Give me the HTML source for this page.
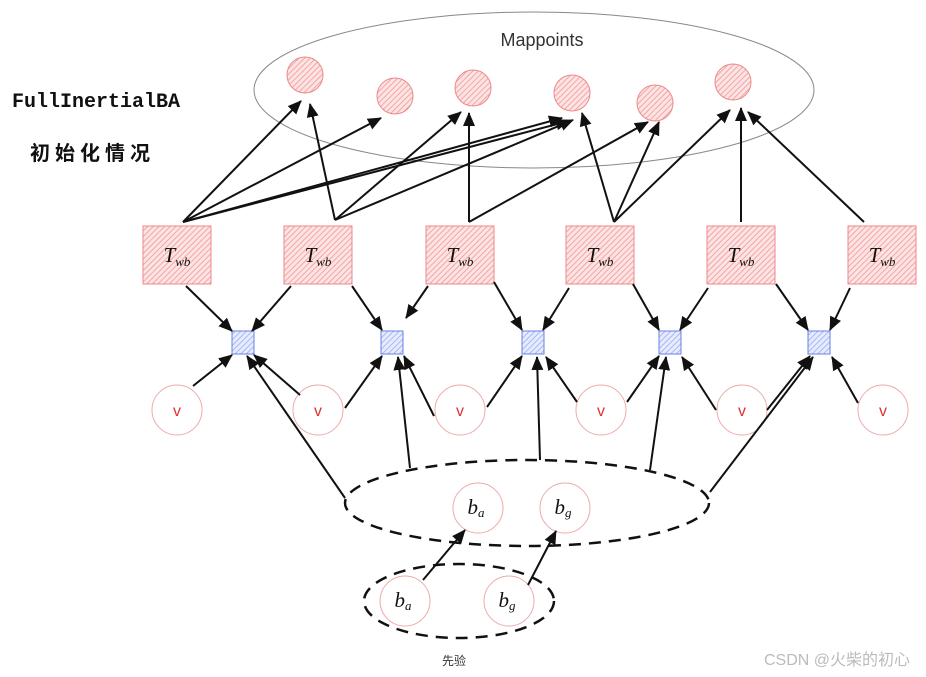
<!DOCTYPE html>
<html><head><meta charset="utf-8"><style>
html,body{margin:0;padding:0;background:#fff;}
svg{display:block;}
</style></head><body>
<svg width="926" height="677" viewBox="0 0 926 677" xmlns="http://www.w3.org/2000/svg">
<defs>
<pattern id="hr" width="4" height="4" patternUnits="userSpaceOnUse" patternTransform="rotate(45)">
<rect width="4" height="4" fill="#fde4e4"/><line x1="0" y1="0" x2="0" y2="4" stroke="#f2a5a5" stroke-width="2"/></pattern>
<pattern id="hb" width="4" height="4" patternUnits="userSpaceOnUse" patternTransform="rotate(45)">
<rect width="4" height="4" fill="#e6ebff"/><line x1="0" y1="0" x2="0" y2="4" stroke="#a9b8f2" stroke-width="2"/></pattern>
<marker id="a" markerWidth="14" markerHeight="14" refX="13" refY="6" orient="auto" markerUnits="userSpaceOnUse" viewBox="0 0 14 12">
<path d="M0,0 L14,6 L0,12 Z" fill="#111"/></marker>
</defs>
<ellipse cx="534" cy="90" rx="280" ry="78" fill="none" stroke="#888" stroke-width="1"/>
<text x="542" y="46" font-family="Liberation Sans, sans-serif" font-size="18" fill="#333" text-anchor="middle">Mappoints</text>
<text x="12" y="107" font-family="Liberation Mono, monospace" font-size="20" fill="#111" font-weight="bold">FullInertialBA</text>
<text x="30" y="160" font-family="Noto Sans CJK SC, sans-serif" font-size="20" font-weight="bold" fill="#111" letter-spacing="5">初始化情况</text>
<g fill="url(#hr)" stroke="#e88" stroke-width="1">
<circle cx="305" cy="75" r="18"/><circle cx="395" cy="96" r="18"/><circle cx="473" cy="88" r="18"/>
<circle cx="572" cy="93" r="18"/><circle cx="655" cy="103" r="18"/><circle cx="733" cy="82" r="18"/>
<rect x="143" y="226" width="68" height="58"/><rect x="284" y="226" width="68" height="58"/>
<rect x="426" y="226" width="68" height="58"/><rect x="566" y="226" width="68" height="58"/>
<rect x="707" y="226" width="68" height="58"/><rect x="848" y="226" width="68" height="58"/>
</g>
<g font-family="Liberation Serif, serif" font-style="italic" font-size="21" fill="#111" text-anchor="middle">
<text x="177" y="262">T<tspan font-size="13" dy="4">wb</tspan></text>
<text x="318" y="262">T<tspan font-size="13" dy="4">wb</tspan></text>
<text x="460" y="262">T<tspan font-size="13" dy="4">wb</tspan></text>
<text x="600" y="262">T<tspan font-size="13" dy="4">wb</tspan></text>
<text x="741" y="262">T<tspan font-size="13" dy="4">wb</tspan></text>
<text x="882" y="262">T<tspan font-size="13" dy="4">wb</tspan></text>
</g>
<g fill="url(#hb)" stroke="#6b80e0" stroke-width="1">
<rect x="232" y="331" width="22" height="23"/><rect x="381" y="331" width="22" height="23"/>
<rect x="522" y="331" width="22" height="23"/><rect x="659" y="331" width="22" height="23"/>
<rect x="808" y="331" width="22" height="23"/>
</g>
<g fill="#fff" stroke="#eaa" stroke-width="1">
<circle cx="177" cy="410" r="25"/><circle cx="318" cy="410" r="25"/><circle cx="460" cy="410" r="25"/>
<circle cx="601" cy="410" r="25"/><circle cx="742" cy="410" r="25"/><circle cx="883" cy="410" r="25"/>
<circle cx="478" cy="508" r="25"/><circle cx="565" cy="508" r="25"/>
<circle cx="405" cy="601" r="25"/><circle cx="509" cy="601" r="25"/>
</g>
<g font-family="Liberation Sans, sans-serif" font-size="16" fill="#d33" text-anchor="middle">
<text x="177" y="416">v</text><text x="318" y="416">v</text><text x="460" y="416">v</text>
<text x="601" y="416">v</text><text x="742" y="416">v</text><text x="883" y="416">v</text>
</g>
<g font-family="Liberation Serif, serif" font-style="italic" font-size="21" fill="#111" text-anchor="middle">
<text x="476" y="514">b<tspan font-size="13" dy="3">a</tspan></text>
<text x="563" y="514">b<tspan font-size="13" dy="3">g</tspan></text>
<text x="403" y="607">b<tspan font-size="13" dy="3">a</tspan></text>
<text x="507" y="607">b<tspan font-size="13" dy="3">g</tspan></text>
</g>
<ellipse cx="527" cy="503" rx="182" ry="43" fill="none" stroke="#111" stroke-width="2.5" stroke-dasharray="12,8"/>
<ellipse cx="459" cy="601" rx="95" ry="37" fill="none" stroke="#111" stroke-width="2.5" stroke-dasharray="12,8"/>
<text x="454" y="665" font-family="Noto Sans CJK SC, sans-serif" font-size="12" fill="#333" text-anchor="middle">先验</text>
<text x="910" y="665" font-family="Liberation Sans, Noto Sans CJK SC, sans-serif" font-size="16" fill="#bbb" text-anchor="end">CSDN @火柴的初心</text>
<g stroke="#111" stroke-width="2" fill="none" marker-end="url(#a)">
<line x1="183" y1="222" x2="301" y2="101"/><line x1="183" y1="222" x2="381" y2="118"/>
<path d="M183 222 Q370 170 562 118"/><line x1="183" y1="222" x2="569" y2="121"/>
<line x1="335" y1="220" x2="310" y2="104"/><line x1="335" y1="220" x2="461" y2="112"/>
<line x1="335" y1="220" x2="573" y2="120"/>
<line x1="469" y1="222" x2="469" y2="113"/><line x1="469" y1="222" x2="648" y2="122"/>
<line x1="614" y1="222" x2="582" y2="113"/><line x1="614" y1="222" x2="659" y2="122"/><line x1="614" y1="222" x2="730" y2="110"/>
<line x1="741" y1="222" x2="741" y2="108"/><line x1="864" y1="222" x2="748" y2="112"/>
<line x1="186" y1="286" x2="232" y2="331"/><line x1="291" y1="286" x2="252" y2="331"/>
<line x1="352" y1="286" x2="382" y2="330"/><line x1="428" y1="286" x2="406" y2="318" />
<line x1="494" y1="282" x2="522" y2="330"/><line x1="569" y1="288" x2="543" y2="330"/>
<line x1="633" y1="284" x2="659" y2="330"/><line x1="708" y1="288" x2="680" y2="330"/>
<line x1="776" y1="284" x2="808" y2="330"/><line x1="850" y1="288" x2="830" y2="330"/>
<line x1="193" y1="386" x2="232" y2="355"/><line x1="300" y1="395" x2="254" y2="355"/>
<line x1="345" y1="408" x2="382" y2="356"/><line x1="434" y1="416" x2="404" y2="356"/>
<line x1="487" y1="407" x2="522" y2="356"/><line x1="577" y1="402" x2="546" y2="357"/>
<line x1="627" y1="402" x2="659" y2="356"/><line x1="716" y1="410" x2="682" y2="357"/>
<line x1="767" y1="410" x2="810" y2="356"/><line x1="858" y1="403" x2="832" y2="357"/>
<line x1="345" y1="498" x2="247" y2="356"/><line x1="410" y1="468" x2="398" y2="357"/>
<line x1="540" y1="460" x2="537" y2="357"/><line x1="650" y1="470" x2="666" y2="357"/>
<line x1="710" y1="492" x2="813" y2="357"/>
<line x1="423" y1="580" x2="465" y2="530"/><line x1="528" y1="585" x2="556" y2="531"/>
</g>
</svg>
</body></html>
